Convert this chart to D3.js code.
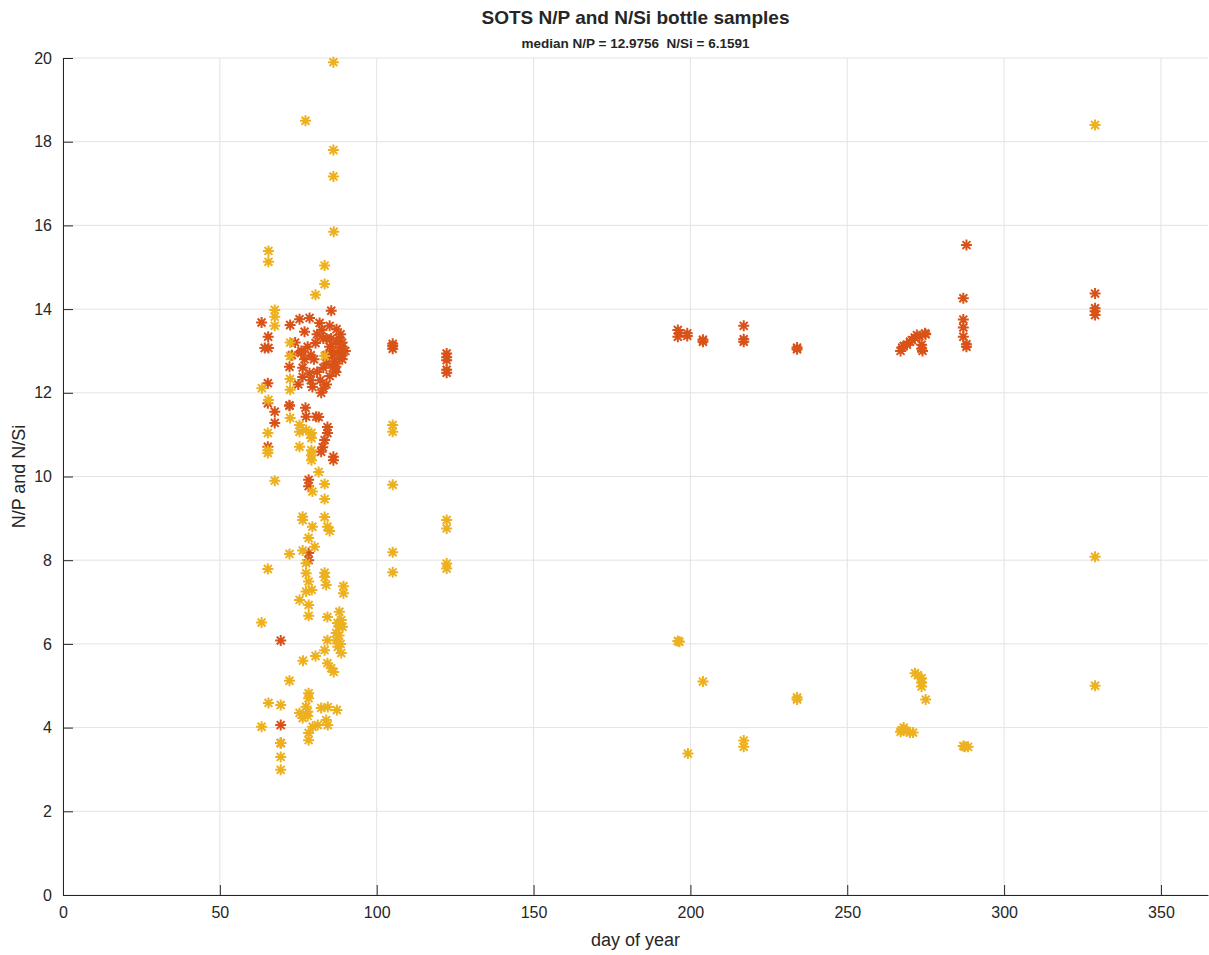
<!DOCTYPE html>
<html>
<head>
<meta charset="utf-8">
<script src="https://cdn.jsdelivr.net/npm/d3@7"></script>
<style>
  body { margin: 0; background: #fff; }
  text { font-family: "Liberation Sans", Arial, Helvetica, sans-serif; fill: #262626; }
</style>
</head>
<body>
<svg id="chart" width="1209" height="955"></svg>
<script>
// N/P samples (day of year, ratio)
var npDay = [63.3,65.4,64.3,65.5,65.3,72.4,75.4,78.6,81.8,77,85.5,87.2,80.5,75.9,72.2,76.4,76.4,78.6,79.5,82.3,87,
  72.2,67.5,77.3,80.7,65.3,72.2,67.5,77.5,81.5,84.3,84.3,83.4,82.8,82.3,65.3,86.2,86.2,78.3,78.3,78.3,78.3,69.4,69.4,69.4,
  84,85,86,87,88,89,89,88,87,86,85,84,83,82,83,84,88,89,90,80,81,79,78,76,77,74,82.5,85.5,86.5,88.5,
  73,75,79,81,83,85,87,89,86,84,
  105.1,105.1,105.1,122.3,122.3,122.3,122.3,122.3,
  196,196,196.5,199,199,204,204,217,217,217,234,234,
  267,267.5,268,269,270,270.6,271.5,272.2,273,274.8,273.7,273.7,274,275,
  287,287,287,287,288,288,288,329,329,329,329];
var npVal = [13.68,13.34,13.07,13.07,12.23,13.62,13.76,13.79,13.67,13.46,13.96,13.52,13.19,12.95,12.62,12.6,12.38,12.47,12.14,12.0,12.62,
  11.7,11.55,11.64,11.43,11.75,11.69,11.28,11.43,11.42,11.18,11.04,10.87,10.7,10.59,10.71,10.47,10.39,9.92,9.77,8.17,8.0,6.08,4.06,3.63,
  13.3,13.1,12.9,13.2,13.0,12.8,13.1,13.3,12.7,12.6,12.4,12.2,12.1,12.3,12.6,12.9,12.9,13.2,13.0,12.8,12.5,12.9,13.1,13.0,12.8,13.2,13.5,13.3,12.75,13.4,
  12.9,12.2,12.3,13.4,13.3,13.6,12.5,12.9,13.0,12.7,
  13.05,13.12,13.17,12.94,12.85,12.78,12.55,12.48,
  13.5,13.34,13.42,13.42,13.36,13.27,13.22,13.6,13.28,13.22,13.08,13.04,
  13.0,13.08,13.12,13.15,13.22,13.26,13.32,13.38,13.35,13.42,13.15,13.05,13.0,13.4,
  14.26,13.75,13.56,13.34,13.16,13.1,15.53,14.37,14.02,13.95,13.86];

// N/Si samples (day of year, ratio)
var nsiDay = [86.2,77.3,86.2,86.2,86.3,65.5,65.5,83.4,83.4,80.5,67.5,67.5,67.5,72.4,72.4,83.4,72.4,72.4,63.4,65.5,72.4,
  75.4,75.4,77.5,79.2,79.2,65.3,65.3,65.3,75.4,79.2,79.2,79.2,81.5,67.5,83.4,79.5,83.4,76.4,76.4,83.4,79.5,84.3,85,78.3,
  80.2,76.4,72.2,77.5,65.3,77.5,83.4,83.4,78.3,83.9,89.4,89.4,77.5,79.3,75.4,78.3,78.3,84.3,88.1,88.7,88.1,89.1,63.3,
  87.1,87.1,87.6,88.7,84.3,83.4,80.5,76.5,84.3,85.5,86.3,72.2,78.3,78.3,65.5,69.4,77.5,78,82.3,84.4,87.3,75.4,76.4,78,
  83.9,84.4,81.2,79.6,63.3,78.3,78.3,69.4,69.4,69.4,88,88.5,87.5,
  105.1,105.1,105.1,105.1,105.1,122.3,122.3,122.3,122.3,
  196,196.5,204,199.2,217,217,234,234,271.6,272.5,273.7,273.7,273.7,275,267,267.4,268,269,270,271,287,287.5,288.5,
  329,329,329];
var nsiVal = [19.9,18.5,17.8,17.17,15.85,15.39,15.13,15.04,14.6,14.34,13.98,13.82,13.6,13.2,12.88,12.88,12.33,12.07,12.11,11.83,11.4,
  11.23,11.07,11.11,11.04,10.92,11.04,10.63,10.56,10.71,10.63,10.51,10.39,10.11,9.9,9.82,9.64,9.46,9.04,8.96,9.03,8.8,8.8,8.7,8.53,
  8.32,8.23,8.15,7.93,7.79,7.69,7.7,7.6,7.49,7.41,7.38,7.21,7.25,7.29,7.05,6.93,6.67,6.64,6.77,6.57,6.41,6.41,6.51,
  6.26,6.09,5.93,5.78,6.09,5.85,5.71,5.6,5.54,5.42,5.33,5.12,4.82,4.7,4.59,4.54,4.5,4.38,4.47,4.49,4.42,4.35,4.23,4.28,
  4.18,4.06,4.06,4.02,4.02,3.87,3.7,3.63,3.3,2.99,6.2,6.0,6.5,
  11.23,11.07,9.8,8.19,7.71,8.96,8.76,7.92,7.8,
  6.07,6.05,5.1,3.38,3.69,3.54,4.67,4.72,5.3,5.25,5.18,5.08,4.98,4.67,3.9,3.94,4.0,3.92,3.88,3.88,3.56,3.54,3.54,
  18.4,8.08,5.0];

var xTicks = [0, 50, 100, 150, 200, 250, 300, 350];
var yTicks = [0, 2, 4, 6, 8, 10, 12, 14, 16, 18, 20];

var svg = d3.select("#chart");
var margin = {left: 63, right: 1, top: 58, bottom: 60};
var W = 1209, H = 955;

var x = d3.scaleLinear().domain([0, 365]).range([margin.left, W - margin.right]);
var y = d3.scaleLinear().domain([0, 20]).range([H - margin.bottom, margin.top]);

// grid
var grid = svg.append("g");
grid.selectAll(".gx").data(xTicks).enter().append("line")
    .attr("x1", function(d) { return x(d); }).attr("x2", function(d) { return x(d); })
    .attr("y1", y(0)).attr("y2", y(20))
    .attr("stroke", "#e3e3e3").attr("stroke-width", 1);
grid.selectAll(".gy").data(yTicks).enter().append("line")
    .attr("x1", x(0)).attr("x2", x(365))
    .attr("y1", function(d) { return y(d); }).attr("y2", function(d) { return y(d); })
    .attr("stroke", "#e3e3e3").attr("stroke-width", 1);

// asterisk marker, like matlab '*'
var r = 5.5, rd = r * 0.72;
var star = "M" + (-r) + ",0L" + r + ",0M0," + (-r) + "L0," + r +
    "M" + (-rd) + "," + (-rd) + "L" + rd + "," + rd +
    "M" + (-rd) + "," + rd + "L" + rd + "," + (-rd);

function plotSeries(days, vals, color) {
    svg.append("g").selectAll("path")
        .data(d3.range(days.length))
        .enter().append("path")
        .attr("d", star)
        .attr("transform", function(i) { return "translate(" + x(days[i]) + "," + y(vals[i]) + ")"; })
        .attr("fill", "none")
        .attr("stroke", color)
        .attr("stroke-width", 2);
}
plotSeries(npDay, npVal, "#D95319");
plotSeries(nsiDay, nsiVal, "#EDB120");

// axes, ticks inside
var xAxis = svg.append("g").attr("transform", "translate(0," + y(0) + ")")
    .call(d3.axisBottom(x).tickValues(xTicks).tickSizeInner(-10).tickSizeOuter(0).tickPadding(12));
var yAxis = svg.append("g").attr("transform", "translate(" + x(0) + ",0)")
    .call(d3.axisLeft(y).tickValues(yTicks).tickSizeInner(-10).tickSizeOuter(0).tickPadding(11));
[xAxis, yAxis].forEach(function(a) {
    a.select(".domain").attr("stroke", "#262626");
    a.selectAll(".tick line").attr("stroke", "#262626");
    a.selectAll(".tick text").attr("font-size", 16).attr("fill", "#262626")
        .style("font-family", "'Liberation Sans', Arial, sans-serif");
});

// titles
var cx = (x(0) + x(365)) / 2;
svg.append("text").attr("x", cx).attr("y", 24).attr("text-anchor", "middle")
    .attr("font-size", 19).attr("font-weight", "bold").attr("fill", "#000")
    .text("SOTS N/P and N/Si bottle samples");
svg.append("text").attr("x", cx).attr("y", 48).attr("text-anchor", "middle")
    .attr("font-size", 13.5).attr("font-weight", "bold").attr("fill", "#000")
    .style("white-space", "pre")
    .text("median N/P = 12.9756  N/Si = 6.1591");
svg.append("text").attr("x", cx).attr("y", 946).attr("text-anchor", "middle")
    .attr("font-size", 18).text("day of year");
svg.append("text").attr("transform", "translate(25," + y(10) + ")rotate(-90)")
    .attr("text-anchor", "middle").attr("font-size", 18).text("N/P and N/Si");
</script>
</body>
</html>
